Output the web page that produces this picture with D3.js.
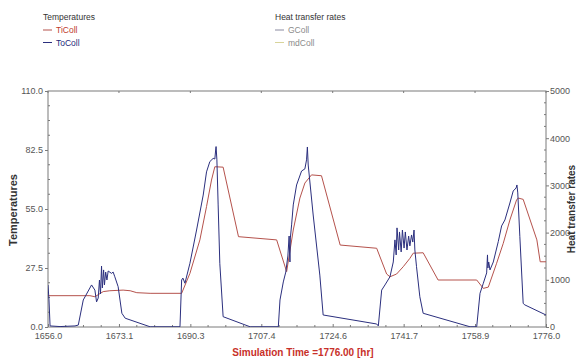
<!DOCTYPE html>
<html>
<head>
<meta charset="utf-8">
<script src="https://cdn.jsdelivr.net/npm/d3@7"></script>
<style>
  html, body { margin: 0; padding: 0; background: #fff; }
  svg { display: block; font-family: "Liberation Sans", Arial, sans-serif; }
</style>
</head>
<body>
<svg id="chart" width="578" height="360"></svg>
<script>
// Simulation time [hr]
const timeDomain = [1656.0, 1776.0];
const timeTicks = [1656.0, 1673.1, 1690.3, 1707.4, 1724.6, 1741.7, 1758.9, 1776.0];
const tempTicks = [0.0, 27.5, 55.0, 82.5, 110.0];
const rateTicks = [0, 1000, 2000, 3000, 4000, 5000];

// Collector inlet temperature TiColl: [time, °C]
const tiColl = [
  [1656.0, 14.6], [1666.1, 14.6], [1667.3, 14.1], [1669.3, 16.5], [1670.9, 16.9],
  [1674.1, 17.2], [1675.8, 16.9], [1677.4, 16.0], [1680.6, 15.7], [1688.2, 15.7],
  [1690.2, 25.0], [1692.6, 40.6], [1694.2, 56.1], [1695.4, 68.5], [1696.2, 74.7],
  [1698.2, 74.5], [1701.9, 42.1], [1711.1, 40.6], [1713.5, 25.8], [1715.1, 45.2],
  [1716.7, 60.1], [1717.9, 67.1], [1719.5, 70.9], [1721.9, 70.5], [1726.4, 38.2],
  [1735.2, 36.7], [1737.6, 24.7], [1738.4, 23.4], [1740.0, 24.7], [1741.6, 28.1],
  [1743.2, 32.0], [1744.0, 34.4], [1746.4, 34.6], [1750.0, 21.9], [1759.3, 21.9],
  [1760.9, 18.0], [1762.1, 18.6], [1764.1, 29.7], [1765.7, 39.0], [1767.3, 49.9],
  [1768.9, 59.2], [1769.3, 60.1], [1770.5, 59.5], [1773.8, 40.6], [1774.6, 30.4],
  [1776.0, 30.4]
];

// Collector outlet temperature ToColl: [time, °C]
const toColl = [
  [1656.0, 19.6], [1656.24, 12.6], [1656.5, 0.5], [1658.9, 0.2], [1662.5, 0.5],
  [1663.3, 0.9], [1664.5, 12.6], [1666.5, 19.6], [1667.3, 17.2], [1667.7, 11.7],
  [1668.1, 13.5], [1668.4, 21.9], [1668.65, 15.4], [1668.9, 28.4], [1669.1, 18.2],
  [1669.4, 26.6], [1669.6, 19.6], [1669.9, 25.6], [1670.2, 21.9], [1670.5, 26.1],
  [1671.3, 25.0], [1671.7, 25.6], [1672.1, 23.4], [1672.9, 18.8], [1673.8, 6.4],
  [1674.6, 4.1], [1680.6, 0.1], [1687.8, 0.1], [1688.2, 21.9], [1688.5, 22.8],
  [1689.0, 20.4], [1690.2, 29.7], [1691.8, 45.2], [1693.4, 61.5], [1694.2, 72.3],
  [1695.0, 77.1], [1695.8, 78.6], [1696.2, 78.3], [1696.4, 82.5], [1696.5, 84.1],
  [1696.7, 77.9], [1697.0, 56.9], [1697.4, 29.7], [1698.2, 4.8], [1704.7, 0.1],
  [1711.5, 0.1], [1711.9, 12.6], [1712.7, 21.0], [1713.3, 25.6], [1713.8, 33.1],
  [1714.1, 42.4], [1714.3, 30.3], [1714.4, 41.5], [1714.7, 47.6], [1715.1, 56.9],
  [1715.9, 66.2], [1717.1, 72.7], [1717.9, 73.7], [1718.3, 77.9], [1718.5, 83.9],
  [1718.7, 75.5], [1719.9, 52.2], [1721.5, 24.2], [1722.3, 5.6], [1735.2, 1.4],
  [1735.6, 0.5], [1736.4, 17.2], [1737.2, 19.6], [1738.4, 23.4], [1739.2, 30.3],
  [1739.6, 40.6], [1739.9, 33.6], [1740.1, 46.2], [1740.5, 35.9], [1740.7, 44.3],
  [1741.1, 35.0], [1741.4, 45.2], [1741.8, 36.8], [1742.1, 44.3], [1742.5, 35.9],
  [1742.9, 42.4], [1743.2, 37.8], [1743.6, 42.9], [1743.9, 39.6], [1744.2, 45.2],
  [1744.4, 35.9], [1744.8, 28.1], [1745.6, 14.1], [1746.4, 6.4], [1757.7, 0.1],
  [1759.3, 0.1], [1760.1, 15.7], [1760.9, 20.4], [1761.7, 25.2], [1761.9, 33.6],
  [1762.0, 27.5], [1762.2, 30.3], [1762.5, 26.6], [1763.3, 30.3], [1764.5, 39.8],
  [1765.3, 47.1], [1766.1, 49.9], [1767.3, 57.8], [1768.1, 63.4], [1768.8, 64.8],
  [1769.0, 66.2], [1769.2, 62.5], [1769.7, 42.1], [1770.5, 11.0], [1770.9, 10.3],
  [1776.0, 5.6]
];

// Legend groups
const tempLegend = [
  { name: "TiColl", line: "#b5524c", text: "#c0392b" },
  { name: "ToColl", line: "#2b2f7e", text: "#23287a" }
];
const rateLegend = [
  { name: "GColl", line: "#8a8aa0", text: "#8a8a8a" },
  { name: "mdColl", line: "#d8d49a", text: "#8a8a8a" }
];

const svg = d3.select("#chart");
const plot = { left: 48, right: 546, top: 91, bottom: 327 };
const axisColor = "#7a7a7a";
const labelColor = "#555";

const x = d3.scaleLinear().domain(timeDomain).range([plot.left, plot.right]);
const yT = d3.scaleLinear().domain([0, 110]).range([plot.bottom, plot.top]);
const yR = d3.scaleLinear().domain([0, 5000]).range([plot.bottom, plot.top]);

// Minor tick positions between major ticks
function minors(ticks, n) {
  const out = [];
  for (let i = 0; i < ticks.length - 1; i++) {
    for (let k = 1; k < n; k++) out.push(ticks[i] + (ticks[i + 1] - ticks[i]) * k / n);
  }
  return out;
}

// Frame
svg.append("rect")
  .attr("x", plot.left).attr("y", plot.top)
  .attr("width", plot.right - plot.left).attr("height", plot.bottom - plot.top)
  .attr("fill", "none").attr("stroke", axisColor).attr("stroke-width", 1);

// Bottom axis
const xAxis = d3.axisBottom(x).tickValues(timeTicks).tickFormat(d3.format(".1f"))
  .tickSizeInner(-3).tickSizeOuter(0).tickPadding(6);
const gx = svg.append("g").attr("transform", `translate(0,${plot.bottom})`).call(xAxis);
gx.select(".domain").remove();
gx.selectAll(".tick line").attr("stroke", axisColor);
gx.selectAll(".tick text").attr("fill", labelColor).attr("font-size", 9);
svg.append("g").selectAll("line").data(minors(timeTicks, 4)).join("line")
  .attr("x1", d => x(d)).attr("x2", d => x(d))
  .attr("y1", plot.bottom).attr("y2", plot.bottom - 2)
  .attr("stroke", axisColor);
// top edge ticks
svg.append("g").selectAll("line").data(timeTicks).join("line")
  .attr("x1", d => x(d)).attr("x2", d => x(d))
  .attr("y1", plot.top).attr("y2", plot.top + 2)
  .attr("stroke", axisColor);

// Left axis (temperatures)
const yAxisL = d3.axisLeft(yT).tickValues(tempTicks).tickFormat(d3.format(".1f"))
  .tickSizeInner(3).tickSizeOuter(0).tickPadding(2);
const gyl = svg.append("g").attr("transform", `translate(${plot.left},0)`).call(yAxisL);
gyl.select(".domain").remove();
gyl.selectAll(".tick line").attr("stroke", axisColor);
gyl.selectAll(".tick text").attr("fill", labelColor).attr("font-size", 9);
svg.append("g").selectAll("line").data(minors(tempTicks, 4)).join("line")
  .attr("x1", plot.left).attr("x2", plot.left + 2)
  .attr("y1", d => yT(d)).attr("y2", d => yT(d))
  .attr("stroke", axisColor);

// Right axis (heat transfer rates)
const yAxisR = d3.axisRight(yR).tickValues(rateTicks).tickFormat(d3.format("d"))
  .tickSizeInner(3).tickSizeOuter(0).tickPadding(1);
const gyr = svg.append("g").attr("transform", `translate(${plot.right},0)`).call(yAxisR);
gyr.select(".domain").remove();
gyr.selectAll(".tick line").attr("stroke", axisColor);
gyr.selectAll(".tick text").attr("fill", labelColor).attr("font-size", 9);
svg.append("g").selectAll("line").data(minors(rateTicks, 4)).join("line")
  .attr("x1", plot.right).attr("x2", plot.right - 2)
  .attr("y1", d => yR(d)).attr("y2", d => yR(d))
  .attr("stroke", axisColor);

// Axis titles
svg.append("text")
  .attr("transform", `translate(17,${(plot.top + plot.bottom) / 2 + 1}) rotate(-90)`)
  .attr("text-anchor", "middle").attr("font-size", 11).attr("font-weight", "bold")
  .attr("fill", "#333").text("Temperatures");
svg.append("text")
  .attr("transform", `translate(575,${(plot.top + plot.bottom) / 2}) rotate(-90)`)
  .attr("text-anchor", "middle").attr("font-size", 10).attr("font-weight", "bold")
  .attr("fill", "#333").text("Heat transfer rates");
svg.append("text")
  .attr("x", 303).attr("y", 356)
  .attr("text-anchor", "middle").attr("font-size", 10).attr("font-weight", "bold")
  .attr("fill", "#c8302a").text("Simulation Time =1776.00 [hr]");

// Series
const line = d3.line().x(d => x(d[0])).y(d => yT(d[1]));
svg.append("clipPath").attr("id", "plotClip").append("rect")
  .attr("x", plot.left).attr("y", plot.top)
  .attr("width", plot.right - plot.left).attr("height", plot.bottom - plot.top);
const series = svg.append("g").attr("clip-path", "url(#plotClip)");
series.append("path").datum(tiColl).attr("d", line)
  .attr("fill", "none").attr("stroke", tempLegend[0].line).attr("stroke-width", 1);
series.append("path").datum(toColl).attr("d", line)
  .attr("fill", "none").attr("stroke", tempLegend[1].line).attr("stroke-width", 1);

// Legends
function legend(title, items, lx) {
  const g = svg.append("g");
  g.append("text").attr("x", lx).attr("y", 20).attr("font-size", 8.5)
    .attr("fill", "#333").text(title);
  items.forEach((it, i) => {
    const ly = 30 + i * 12.5;
    g.append("line").attr("x1", lx).attr("x2", lx + 9).attr("y1", ly).attr("y2", ly)
      .attr("stroke", it.line).attr("stroke-width", 1);
    g.append("text").attr("x", lx + 13).attr("y", ly + 3).attr("font-size", 8.5)
      .attr("fill", it.text).text(it.name);
  });
}
legend("Temperatures", tempLegend, 43);
legend("Heat transfer rates", rateLegend, 275);
</script>
</body>
</html>
